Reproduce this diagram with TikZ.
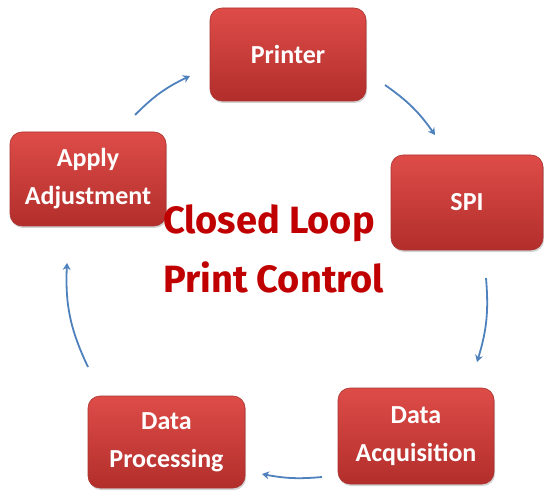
\documentclass[tikz,border=0pt]{standalone}
\usepackage{fontspec}
\setmainfont{Carlito}
\newfontfamily\titlefont{Fira Sans}
\usetikzlibrary{shadows,arrows.meta}
\definecolor{boxtop}{RGB}{222,76,72}
\definecolor{boxbot}{RGB}{178,46,43}
\definecolor{boxedge}{RGB}{170,50,46}
\definecolor{arrowblue}{RGB}{79,129,189}
\definecolor{titlered}{RGB}{192,0,0}
\begin{document}
\begin{tikzpicture}[x=1pt,y=1pt,
 stagebox/.style={rounded corners=12pt, top color=boxtop, bottom color=boxbot, draw=boxedge, line width=0.6pt,
   drop shadow={shadow xshift=1pt,shadow yshift=-2pt,opacity=0.35},
   text=white, font=\bfseries\fontsize{26}{38}\selectfont, align=center, inner sep=0pt},
 cyclearrow/.style={draw=arrowblue, line width=1.8pt, -{Stealth[length=7pt,width=8pt]}},
 titletext/.style={font=\titlefont\bfseries\fontsize{38}{42}\selectfont, text=titlered, anchor=base west, inner sep=0pt}]
\useasboundingbox (0,0) rectangle (544,491);
\node[stagebox, minimum width=156pt, minimum height=93pt] (printer) at (288,436.5) {Printer};
\node[stagebox, minimum width=152pt, minimum height=95pt] (spi) at (467,288.5) {SPI};
\node[stagebox, minimum width=156pt, minimum height=96pt] (acq) at (416,55) {Data\\Acquisition};
\node[stagebox, minimum width=157pt, minimum height=92pt] (proc) at (166.5,49) {Data\\Processing};
\node[stagebox, minimum width=156pt, minimum height=94pt] (apply) at (88,312) {Apply\\Adjustment};
\node[titletext] (title1) at (163,258) {Closed Loop};
\node[titletext] (title2) at (163,199) {Print Control};
\coordinate (a1s) at (135,376); \coordinate (a1e) at (190,415);
\coordinate (a2s) at (385,406); \coordinate (a2e) at (435,356);
\coordinate (a3s) at (486,213); \coordinate (a3e) at (477,129);
\coordinate (a4s) at (322,14);  \coordinate (a4e) at (262,17);
\coordinate (a5s) at (88,124);  \coordinate (a5e) at (67,228);
\draw[cyclearrow] (a1s) to[bend left=10] (a1e);
\draw[cyclearrow] (a2s) to[bend left=10] (a2e);
\draw[cyclearrow] (a3s) to[bend left=11] (a3e);
\draw[cyclearrow] (a4s) to[bend left=8] (a4e);
\draw[cyclearrow] (a5s) to[bend left=14] (a5e);
\end{tikzpicture}
\end{document}
